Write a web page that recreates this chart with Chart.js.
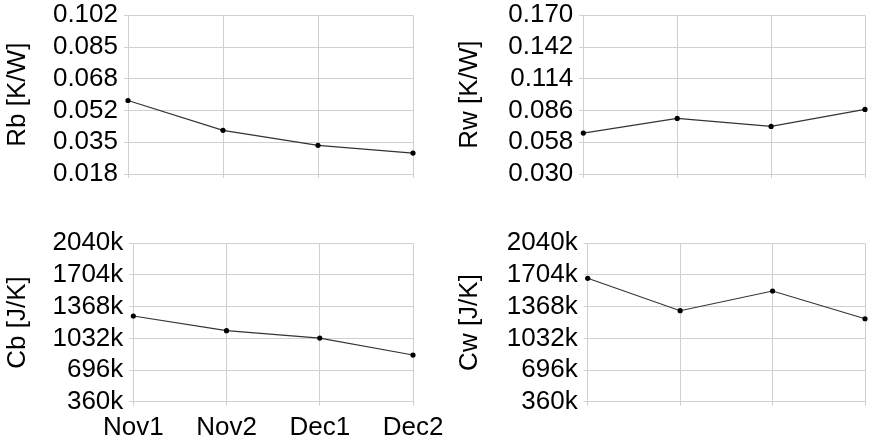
<!DOCTYPE html>
<html>
<head>
<meta charset="utf-8">
<script src="https://cdn.jsdelivr.net/npm/chart.js@4"></script>
<style>
  body { margin: 0; background: #fff; }
  #wrap { position: relative; width: 869px; height: 444px; }
  #wrap canvas { position: absolute; left: 0; top: 0; }
</style>
</head>
<body>
<div id="wrap">
  <canvas id="rb" width="869" height="444"></canvas>
  <canvas id="rw" width="869" height="444"></canvas>
  <canvas id="cb" width="869" height="444"></canvas>
  <canvas id="cw" width="869" height="444"></canvas>
</div>
<script>
// measurement periods
const periods = ['Nov1', 'Nov2', 'Dec1', 'Dec2'];

// fitted parameters per period
const rbValues = [0.0569, 0.0411, 0.0332, 0.0291];
const rwValues = [0.0661, 0.0790, 0.0720, 0.0870];
const cbValues = [1269000, 1113000, 1035000, 855000];
const cwValues = [1669000, 1325000, 1534000, 1240000];

// y axis ranges and their tick labels
const rbRange = [0.018, 0.102];
const rbTicks = ['0.018', '0.035', '0.052', '0.068', '0.085', '0.102'];
const rwRange = [0.030, 0.170];
const rwTicks = ['0.030', '0.058', '0.086', '0.114', '0.142', '0.170'];
const cRange = [360000, 2040000];
const cTicks = ['360k', '696k', '1032k', '1368k', '1704k', '2040k'];

const FONT = { family: 'Liberation Sans, Arial, sans-serif', size: 26 };
const GRID = '#d0d0d0';

// box: [titleLeft, plotLeft, plotTop, plotRight, plotBottom]
function panel(id, values, range, ticks, title, box, showX) {
  const [pl, left, top, right, bottom] = box;
  const xh = showX ? 444 - bottom : 10;
  new Chart(document.getElementById(id), {
    type: 'line',
    data: {
      labels: periods,
      datasets: [{
        data: values,
        borderColor: '#333',
        borderWidth: 1.2,
        pointRadius: 2.6,
        pointBackgroundColor: '#000',
        pointBorderWidth: 0,
        tension: 0,
        clip: false
      }]
    },
    options: {
      responsive: false,
      animation: false,
      layout: {
        padding: { left: pl, top: top, right: 869 - right, bottom: 444 - bottom - xh }
      },
      plugins: { legend: { display: false }, tooltip: { enabled: false } },
      scales: {
        x: {
          grid: { color: GRID, tickLength: 4 },
          border: { color: GRID },
          ticks: { display: showX, color: '#000', font: FONT, padding: 7, maxRotation: 0, autoSkip: false },
          afterFit(s) { s.height = xh; s.paddingLeft = 0; s.paddingRight = 0; }
        },
        y: {
          min: range[0],
          max: range[1],
          grid: { color: GRID, tickLength: 4 },
          border: { color: GRID },
          ticks: {
            count: 6,
            autoSkip: false,
            color: '#000',
            font: FONT,
            padding: 6,
            callback: (v, i) => ticks[i]
          },
          title: { display: true, text: title, color: '#000', font: FONT, padding: 0 },
          afterFit(s) { s.width = left - pl; s.paddingTop = 0; s.paddingBottom = 0; }
        }
      }
    }
  });
}

panel('rb', rbValues, rbRange, rbTicks, 'Rb [K/W]', [2, 128, 15.3, 413, 174], false);
panel('rw', rwValues, rwRange, rwTicks, 'Rw [K/W]', [454, 583.3, 15.3, 867.5, 174], false);
panel('cb', cbValues, cRange, cTicks, 'Cb [J/K]', [2, 133.3, 243.3, 413, 401.7], true);
panel('cw', cwValues, cRange, cTicks, 'Cw [J/K]', [454, 587.7, 243.3, 867.5, 401.7], false);
</script>
</body>
</html>
